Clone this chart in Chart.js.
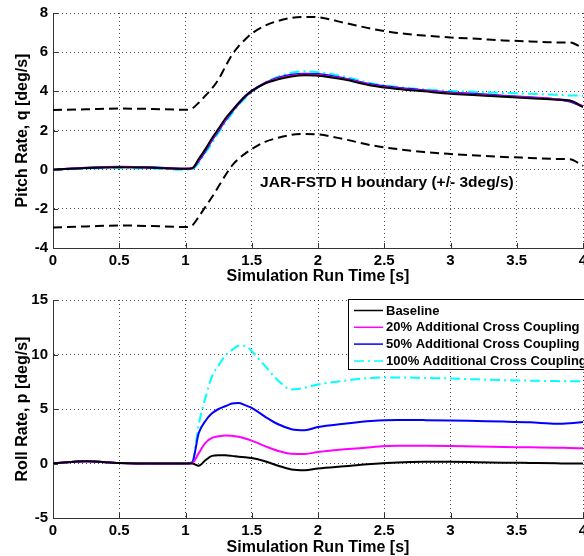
<!DOCTYPE html>
<html>
<head>
<meta charset="utf-8">
<script src="https://cdn.jsdelivr.net/npm/chart.js@4.4.0/dist/chart.umd.min.js"></script>
<style>
body { margin: 0; width: 584px; height: 556px; overflow: hidden; background: #fff; }
.plot { position: absolute; left: 0; }
</style>
</head>
<body>
<div class="plot" style="top:0"><canvas id="pitch" width="600" height="290"></canvas></div>
<div class="plot" style="top:280px"><canvas id="roll" width="600" height="276"></canvas></div>
<script>
// values
const time = [0, 0.25, 0.5, 0.75, 1, 1.05, 1.1, 1.15, 1.2, 1.25, 1.3, 1.35, 1.4, 1.45, 1.5, 1.6, 1.7, 1.8, 1.9, 2, 2.2, 2.4, 2.6, 2.8, 3, 3.2, 3.4, 3.6, 3.8, 3.9, 4]

const pitchBaseline = [0, 0.08, 0.12, 0.1, 0.05, 0.08, 0.55, 1.05, 1.6, 2.1, 2.6, 3.0, 3.4, 3.75, 4.02, 4.4, 4.62, 4.76, 4.82, 4.8, 4.6, 4.3, 4.12, 4.0, 3.88, 3.8, 3.72, 3.65, 3.57, 3.53, 3.2]
const pitch20 = [0, 0.09, 0.13, 0.1, 0.05, 0.07, 0.5, 1.0, 1.55, 2.05, 2.55, 3.0, 3.4, 3.75, 4.02, 4.42, 4.66, 4.8, 4.86, 4.84, 4.63, 4.33, 4.15, 4.03, 3.91, 3.83, 3.75, 3.68, 3.6, 3.52, 3.25]
const pitch50 = [0, 0.1, 0.15, 0.12, 0.05, 0.06, 0.45, 0.95, 1.5, 2.0, 2.5, 2.95, 3.35, 3.72, 4.0, 4.43, 4.7, 4.85, 4.9, 4.88, 4.66, 4.36, 4.18, 4.05, 3.94, 3.86, 3.78, 3.7, 3.6, 3.48, 3.22]
const pitch100 = [-0.03, 0.05, 0.08, 0.05, 0, 0.02, 0.35, 0.85, 1.35, 1.9, 2.4, 2.85, 3.3, 3.65, 3.95, 4.45, 4.75, 4.95, 5.02, 4.98, 4.75, 4.42, 4.22, 4.1, 4.02, 3.97, 3.92, 3.88, 3.82, 3.79, 3.78]
const upperBound = [3.05, 3.08, 3.12, 3.1, 3.06, 3.12, 3.42, 3.78, 4.15, 4.62, 5.25, 5.85, 6.3, 6.65, 6.95, 7.35, 7.6, 7.75, 7.8, 7.78, 7.5, 7.2, 6.98, 6.85, 6.75, 6.68, 6.6, 6.55, 6.5, 6.5, 6.2]
const lowerBound = [-2.95, -2.9, -2.85, -2.88, -2.93, -2.85, -2.4, -1.9, -1.4, -0.85, -0.3, 0.2, 0.55, 0.82, 1.05, 1.42, 1.63, 1.78, 1.82, 1.8, 1.55, 1.25, 1.05, 0.9, 0.8, 0.72, 0.65, 0.6, 0.55, 0.53, 0.2]

const rollBaseline = [0, 0.2, 0.05, 0, 0, 0, -0.2, 0.3, 0.7, 0.75, 0.75, 0.7, 0.62, 0.58, 0.5, 0.2, -0.2, -0.55, -0.62, -0.45, -0.25, -0.05, 0.1, 0.15, 0.15, 0.12, 0.08, 0.05, 0.02, 0, 0]
const roll20 = [0, 0.2, 0.05, 0, 0, 0.05, 0.95, 1.9, 2.35, 2.5, 2.58, 2.55, 2.45, 2.3, 2.1, 1.6, 1.15, 0.9, 0.88, 1.05, 1.3, 1.5, 1.62, 1.62, 1.6, 1.55, 1.52, 1.48, 1.45, 1.42, 1.4]
const roll50 = [0, 0.2, 0.05, 0, 0, 0.1, 2.8, 3.9, 4.6, 5.0, 5.25, 5.5, 5.55, 5.35, 5.1, 4.3, 3.6, 3.15, 3.05, 3.35, 3.65, 3.9, 4.0, 3.98, 3.95, 3.9, 3.85, 3.78, 3.65, 3.7, 3.8]
const roll100 = [0, 0.2, 0.05, 0, 0, 0.1, 3.6, 6.0, 8.0, 9.0, 9.9, 10.4, 10.8, 10.8, 10.3, 8.95, 7.6, 6.8, 6.95, 7.25, 7.6, 7.85, 7.9, 7.85, 7.8, 7.72, 7.65, 7.6, 7.56, 7.55, 7.55]

const seriesLabels = ['Baseline', '20% Additional Cross Coupling', '50% Additional Cross Coupling', '100% Additional Cross Coupling']
const xTicks = [0, 0.5, 1, 1.5, 2, 2.5, 3, 3.5, 4]
const pitchTicks = [-4, -2, 0, 2, 4, 6, 8]
const rollTicks = [-5, 0, 5, 10, 15]
const boundaryLabel = 'JAR-FSTD H boundary (+/- 3deg/s)'
const boundaryLabelAt = { x: 2.52, y: -0.66 }

// styles
const colors = ['#000000', '#ff00ff', '#0000ff', '#00ffff']
const dashes = [[], [], [], [10, 4, 2, 4]]
const fontFamily = '"Liberation Sans", Arial, Helvetica, sans-serif'

Chart.defaults.font.family = fontFamily
Chart.defaults.font.weight = 'bold'
Chart.defaults.color = '#000'

function points(values){
    return time.map((t, i) => ({ x: t, y: values[i] }))
}

function seriesSets(list){
    return list.map((values, i) => ({
        label: seriesLabels[i],
        data: points(values),
        borderColor: colors[i],
        borderDash: dashes[i],
        borderWidth: 2,
        pointRadius: 0,
        fill: false,
        cubicInterpolationMode: 'monotone'
    }))
}

function boundSet(values){
    return {
        label: 'boundary',
        data: points(values),
        borderColor: '#000',
        borderDash: [9, 5],
        borderWidth: 2,
        pointRadius: 0,
        fill: false,
        cubicInterpolationMode: 'monotone'
    }
}

const insideTicks = {
    id: 'insideTicks',
    afterDraw(chart){
        const { ctx, chartArea, scales } = chart
        ctx.save()
        ctx.strokeStyle = '#333'
        ctx.lineWidth = 1
        ctx.beginPath()
        for (let t of scales.x.ticks){
            const px = Math.round(scales.x.getPixelForValue(t.value)) + 0.5
            ctx.moveTo(px, chartArea.bottom)
            ctx.lineTo(px, chartArea.bottom - 5)
        }
        for (let t of scales.y.ticks){
            const py = Math.round(scales.y.getPixelForValue(t.value)) + 0.5
            ctx.moveTo(chartArea.left, py)
            ctx.lineTo(chartArea.left + 5, py)
        }
        ctx.stroke()
        ctx.restore()
    }
}

const boundaryText = {
    id: 'boundaryText',
    afterDatasetsDraw(chart){
        const { ctx, scales } = chart
        ctx.save()
        ctx.font = 'bold 15.5px ' + fontFamily
        ctx.fillStyle = '#000'
        ctx.textAlign = 'center'
        ctx.textBaseline = 'middle'
        ctx.fillText(boundaryLabel, scales.x.getPixelForValue(boundaryLabelAt.x), scales.y.getPixelForValue(boundaryLabelAt.y))
        ctx.restore()
    }
}

const boxLegend = {
    id: 'boxLegend',
    afterDraw(chart){
        const { ctx, chartArea } = chart
        const left = chartArea.right - 235
        const top = chartArea.top - 1
        ctx.save()
        ctx.fillStyle = '#fff'
        ctx.fillRect(left, top, 240, 70)
        ctx.strokeStyle = '#000'
        ctx.lineWidth = 1
        ctx.strokeRect(left + 0.5, top + 0.5, 240, 70)
        ctx.font = 'bold 13px ' + fontFamily
        ctx.textBaseline = 'middle'
        chart.data.datasets.forEach((ds, i) => {
            const y = top + 11.5 + i * 16.8
            ctx.strokeStyle = ds.borderColor
            ctx.setLineDash(ds.borderDash)
            ctx.lineWidth = 1.5
            ctx.beginPath()
            ctx.moveTo(left + 6, y)
            ctx.lineTo(left + 35, y)
            ctx.stroke()
            ctx.setLineDash([])
            ctx.fillStyle = '#000'
            ctx.fillText(ds.label, left + 38, y + 0.5)
        })
        ctx.restore()
    }
}

function makeChart(id, datasets, yTicks, yTitle, topPad, xHeight, titlePad, plugins){
    const ctx = document.getElementById(id).getContext('2d')
    return new Chart(ctx, {
        type: 'line',
        data: { datasets },
        options: {
            responsive: false,
            animation: false,
            devicePixelRatio: 1,
            layout: { padding: { left: 0, top: topPad, right: 17, bottom: 0 } },
            plugins: { legend: { display: false }, tooltip: { enabled: false } },
            scales: {
                x: {
                    type: 'linear',
                    min: xTicks[0],
                    max: xTicks[xTicks.length - 1],
                    afterBuildTicks: s => { s.ticks = xTicks.map(v => ({ value: v })) },
                    afterFit: s => { s.height = xHeight; s.paddingLeft = 0; s.paddingRight = 0 },
                    grid: { color: 'rgba(0,0,0,0.7)', lineWidth: 1, drawTicks: false },
                    border: { color: '#333', width: 1, dash: [1, 3] },
                    ticks: { color: '#000', font: { size: 15, weight: 'bold' }, padding: 4, maxRotation: 0, autoSkip: false, callback: v => String(v) },
                    title: { display: true, text: 'Simulation Run Time [s]', color: '#000', font: { size: 16, weight: 'bold', lineHeight: 1 }, padding: { top: 0, bottom: titlePad } }
                },
                y: {
                    type: 'linear',
                    min: yTicks[0],
                    max: yTicks[yTicks.length - 1],
                    afterBuildTicks: s => { s.ticks = yTicks.map(v => ({ value: v })) },
                    afterFit: s => { s.width = 53; s.paddingTop = 0; s.paddingBottom = 0 },
                    grid: { color: 'rgba(0,0,0,0.7)', lineWidth: 1, drawTicks: false },
                    border: { color: '#333', width: 1, dash: [1, 3] },
                    ticks: { color: '#000', font: { size: 15, weight: 'bold' }, padding: 5, callback: v => String(v) },
                    title: { display: true, text: yTitle, color: '#000', font: { size: 16, weight: 'bold', lineHeight: 1.2 }, padding: { top: 13, bottom: 0 } }
                }
            }
        },
        plugins: [insideTicks].concat(plugins)
    })
}

const pitchSets = seriesSets([pitchBaseline, pitch20, pitch50, pitch100]).concat([boundSet(upperBound), boundSet(lowerBound)])
makeChart('pitch', pitchSets, pitchTicks, 'Pitch Rate, q [deg/s]', 13, 42, 5, [boundaryText])

const rollSets = seriesSets([rollBaseline, roll20, roll50, roll100])
makeChart('roll', rollSets, rollTicks, 'Roll Rate, p [deg/s]', 20, 38, 0, [boxLegend])
</script>
</body>
</html>
